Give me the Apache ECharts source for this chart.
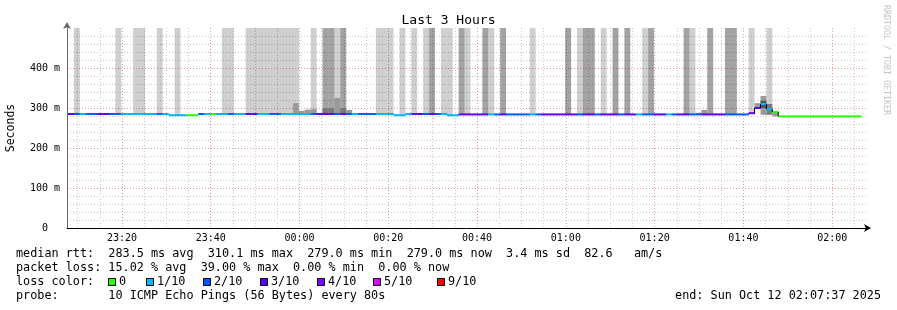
<!DOCTYPE html>
<html><head><meta charset="utf-8">
<script src="https://cdn.jsdelivr.net/npm/echarts@6/dist/echarts.min.js"></script>
<style>html,body{margin:0;padding:0;background:#fff}#c{width:897px;height:310px}</style>
</head><body><div id="c"></div>
<script>
// ---------- data ----------
const chartTitle = 'Last 3 Hours';
const axisName = 'Seconds';
const viewStart = 457;      // 23:07:37 (seconds after 23:00:00)
const viewEnd = 11257;      // 02:07:37
const firstSample = 471;    // start of the first 80 s sample
const stepSec = 80;

const xMajorTicks = [1200, 2400, 3600, 4800, 6000, 7200, 8400, 9600, 10800];
const xMajorLabels = ['23:20', '23:40', '00:00', '00:20', '00:40', '01:00', '01:20', '01:40', '02:00'];
const xMinorTicks = [600, 900, 1500, 1800, 2100, 2700, 3000, 3300, 3900, 4200, 4500, 5100, 5400, 5700,
  6300, 6600, 6900, 7500, 7800, 8100, 8700, 9000, 9300, 9900, 10200, 10500, 11100];
const yTicks = [0, 100, 200, 300, 400];

// median rtt per sample (ms)
const medianRtt = [
  285,285,285,285,285,285,285,285,285,285,
  285,285,285,285,285,285,285,282,282,282,
  282,282,285,285,285,285,285,285,285,285,
  285,285,285,285,285,285,285,285,285,285,
  285,285,285,285,285,285,285,285,285,285,
  285,285,285,285,285,282,282,285,285,285,
  285,285,285,285,282,282,284,284,284,284,
  284,284,284,284,284,284,284,284,284,284,
  284,284,284,284,284,284,284,284,284,284,
  284,284,284,284,284,284,284,284,284,284,
  284,284,284,284,284,284,284,284,284,284,
  284,284,284,284,284,287,300,310,297,290,
  279,279,279,279,279,279,279,279,279,279,
  279,279,279,279
];
// lost pings (of 10) per sample
const lostPings = [
  3,2,1,2,2,3,3,2,2,1,
  1,1,1,1,1,2,1,1,1,1,
  0,0,2,1,0,1,1,2,1,1,
  3,3,1,1,2,2,1,1,1,1,
  1,2,3,3,3,2,3,2,1,2,
  2,2,1,1,1,1,1,1,3,3,
  2,3,2,1,1,1,3,3,3,3,
  3,1,2,3,2,2,2,2,1,2,
  3,3,3,3,3,3,2,3,3,2,
  3,3,3,2,3,3,1,2,2,3,
  3,1,2,3,3,2,2,3,3,3,
  3,2,2,2,2,3,3,1,1,0,
  0,0,0,0,0,0,0,0,0,0,
  0,0,0,0
];
// samples whose smoke runs off the top (light = thin, dark = dense)
const smokeLightIdx = [1,8,11,12,15,18,26,27,30,31,32,33,34,35,36,37,38,41,45,52,53,54,56,58,60,63,64,67,71,78,86,90,97,105,115,118];
const smokeDarkIdx = [43,44,46,61,66,70,73,84,87,88,92,94,98,104,108,111,112];
// near-median smoke bands
const bandIdx = [38, 39, 40, 41, 43, 44, 45, 46, 47, 106, 107, 116, 117, 117, 118, 119];
const bandLo  = [285,285,285,285,285,285,285,285,285,284,284,300,283,300,283,279];
const bandHi  = [312,293,296,297,300,300,325,300,295,288,295,312,330,318,310,290];
const bandDensity = [1,1,1,1,2,2,1,2,1,1,1,1,1,3,2,1];

const lossKeys = [0, 1, 2, 3, 4, 5, 9];
const lossLabels = ['0', '1/10', '2/10', '3/10', '4/10', '5/10', '9/10'];
const lossColorList = ['#26ff00', '#00b8ff', '#0059ff', '#5e00ff', '#7e00ff', '#dd00ff', '#ff0000'];

const statRtt = 'median rtt:  283.5 ms avg  310.1 ms max  279.0 ms min  279.0 ms now  3.4 ms sd  82.6   am/s';
const statLoss = 'packet loss: 15.02 % avg  39.00 % max  0.00 % min  0.00 % now';
const lossRowLabel = 'loss color:';
const probeText = 'probe:       10 ICMP Echo Pings (56 Bytes) every 80s';
const endText = 'end: Sun Oct 12 02:07:37 2025';
const creditText = 'RRDTOOL / TOBI OETIKER';

// ---------- build ----------
const MONO = "'DejaVu Sans Mono', 'Liberation Mono', monospace";
const lossColor = {};
lossKeys.forEach((k, i) => { lossColor[k] = lossColorList[i]; });
const sStart = i => firstSample + stepSec * i;
const sEnd = i => firstSample + stepSec * (i + 1);
const yMax = 500;

const topData = [];
smokeLightIdx.forEach(i => topData.push([sStart(i), sEnd(i), medianRtt[i], yMax, 1]));
smokeDarkIdx.forEach(i => topData.push([sStart(i), sEnd(i), medianRtt[i], yMax, 2]));
const bandData = bandIdx.map((i, j) => [sStart(i), sEnd(i), bandLo[j], bandHi[j], bandDensity[j]]);
const medData = medianRtt.map((m, i) => [sStart(i), sEnd(i), m, lostPings[i], i]);

const topFill = {1: 'rgba(0,0,0,0.19)', 2: 'rgba(0,0,0,0.36)'};
const bandFill = {1: '#999999', 2: '#7a7a7a', 3: '#555555'};

function boxItem(fills) {
  return function (params, api) {
    const p0 = api.coord([api.value(0), api.value(3)]);
    const p1 = api.coord([api.value(1), api.value(2)]);
    return {type: 'rect', shape: {x: p0[0], y: p0[1], width: p1[0] - p0[0], height: p1[1] - p0[1]},
      style: {fill: fills[api.value(4)]}};
  };
}

function medItem(params, api) {
  const i = api.value(4);
  const m = api.value(2);
  const a = api.coord([api.value(0), m]);
  const b = api.coord([api.value(1), m]);
  const children = [{type: 'rect', shape: {x: a[0], y: a[1] - 1, width: b[0] - a[0] + 0.3, height: 2},
    style: {fill: lossColor[api.value(3)]}}];
  if (i > 0 && Math.abs(medianRtt[i - 1] - m) >= 4) {
    const p = api.coord([api.value(0), medianRtt[i - 1]]);
    children.push({type: 'line', shape: {x1: a[0], y1: p[1], x2: a[0], y2: a[1]},
      style: {stroke: '#000', lineWidth: 1}});
  }
  return {type: 'group', children};
}

const legendGraphics = [];
const rowX = 16;
legendGraphics.push({type: 'text', x: rowX, y: 254, style: {text: statRtt, font: '11.8px ' + MONO, fill: '#000', verticalAlign: 'middle'}});
legendGraphics.push({type: 'text', x: rowX, y: 268, style: {text: statLoss, font: '11.8px ' + MONO, fill: '#000', verticalAlign: 'middle'}});
legendGraphics.push({type: 'text', x: rowX, y: 282, style: {text: lossRowLabel, font: '11.8px ' + MONO, fill: '#000', verticalAlign: 'middle'}});
const boxX = [108, 146, 203, 260, 317, 373, 437];
lossKeys.forEach((k, i) => {
  legendGraphics.push({type: 'rect', shape: {x: boxX[i] + 0.5, y: 278.5, width: 7, height: 7},
    style: {fill: lossColor[k], stroke: '#000', lineWidth: 1}});
  legendGraphics.push({type: 'text', x: boxX[i] + 11, y: 282, style: {text: lossLabels[i], font: '11.8px ' + MONO, fill: '#000', verticalAlign: 'middle'}});
});
legendGraphics.push({type: 'text', x: rowX, y: 296, style: {text: probeText, font: '11.8px ' + MONO, fill: '#000', verticalAlign: 'middle'}});
legendGraphics.push({type: 'text', x: 881, y: 296, style: {text: endText, font: '11.8px ' + MONO, fill: '#000', align: 'right', verticalAlign: 'middle'}});
legendGraphics.push({type: 'text', x: 886, y: 5, rotation: -Math.PI / 2, style: {text: creditText, font: '8.3px ' + MONO, fill: '#c4c4c4', align: 'left', verticalAlign: 'middle'}});

const majorLine = {show: true, lineStyle: {color: '#e79c9c', type: [1, 2], width: 1}};
const minorLine = {show: true, lineStyle: {color: '#c8c8c8', type: [1, 2], width: 1}};

const option = {
  animation: false,
  backgroundColor: '#ffffff',
  title: {text: chartTitle, left: 'center', top: 9, textStyle: {fontFamily: MONO, fontSize: 13, fontWeight: 'normal', color: '#000'}},
  grid: {left: 67, right: 31, top: 28, bottom: 82, containLabel: false, outerBoundsMode: 'none'},
  xAxis: [{
    type: 'value', min: viewStart, max: viewEnd, position: 'bottom',
    axisLine: {show: true, onZero: false, lineStyle: {color: '#000', width: 1}, symbol: ['none', 'arrow'], symbolSize: [6, 7], symbolOffset: [0, 5]},
    axisTick: {show: false, customValues: xMajorTicks},
    axisLabel: {customValues: xMajorTicks, margin: 5, fontFamily: MONO, fontSize: 10, color: '#000',
      formatter: v => xMajorLabels[xMajorTicks.indexOf(v)]},
    splitLine: majorLine
  }, {
    type: 'value', min: viewStart, max: viewEnd, position: 'top',
    axisLine: {show: false}, axisTick: {show: false, customValues: xMinorTicks},
    axisLabel: {show: false, customValues: xMinorTicks},
    splitLine: minorLine
  }],
  yAxis: {
    type: 'value', min: 0, max: yMax, interval: 100,
    name: axisName, nameLocation: 'middle', nameGap: 50, nameRotate: 90,
    nameTextStyle: {fontFamily: MONO, fontSize: 11.5, color: '#000'},
    axisLine: {show: true, lineStyle: {color: '#666', width: 1}, symbol: ['none', 'arrow'], symbolSize: [6, 7], symbolOffset: [0, 6]},
    axisTick: {show: false},
    axisLabel: {margin: 7, fontFamily: MONO, fontSize: 10, color: '#000', showMaxLabel: false,
      formatter: v => (yTicks.indexOf(v) === 0 ? '0  ' : v + ' m')},
    splitLine: Object.assign({showMinLine: false, showMaxLine: false}, majorLine),
    minorTick: {show: false, splitNumber: 5},
    minorSplitLine: minorLine
  },
  graphic: legendGraphics,
  series: [
    {type: 'custom', name: 'smoke-top', xAxisIndex: 0, renderItem: boxItem(topFill), data: topData, silent: true, z: 2},
    {type: 'custom', name: 'smoke-band', xAxisIndex: 0, renderItem: boxItem(bandFill), data: bandData, silent: true, z: 3},
    {type: 'custom', name: 'median', xAxisIndex: 0, renderItem: medItem, data: medData, silent: true, z: 4}
  ]
};
const chart = echarts.init(document.getElementById('c'));
chart.setOption(option);
</script>
</body></html>
